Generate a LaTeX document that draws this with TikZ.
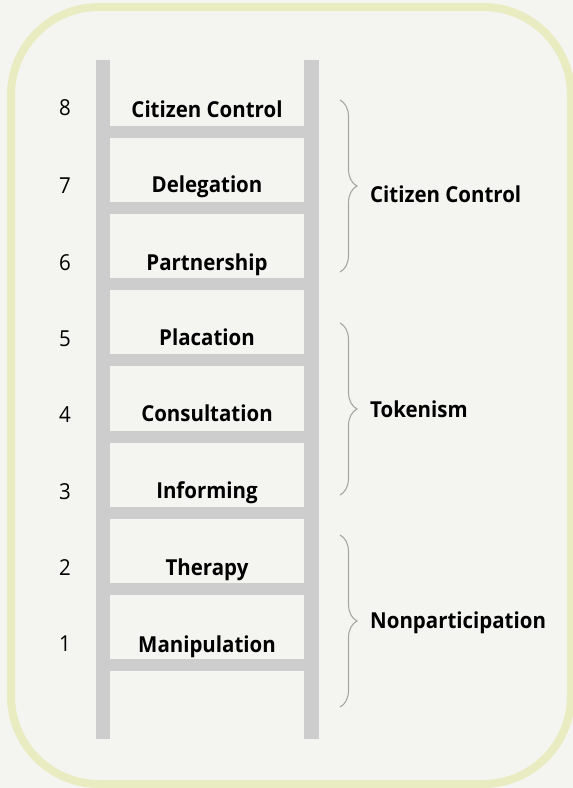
\documentclass[tikz,border=0pt]{standalone}
\usepackage{fontspec}
\setsansfont{Open Sans}[FakeStretch=0.93]
\usepackage{tikz}
\usetikzlibrary{decorations.pathreplacing}
\definecolor{bgpaper}{HTML}{F4F5F0}
\definecolor{framegreen}{HTML}{E9EBC1}
\definecolor{railgrey}{HTML}{CDCDCD}
\definecolor{bracegrey}{HTML}{A6A6A6}

\begin{document}
\begin{tikzpicture}[x=1pt,y=-1pt,
  rungname/.style={font=\sffamily\bfseries\fontsize{22}{26}\selectfont,anchor=base,inner sep=0pt},
  rungnum/.style={font=\sffamily\fontsize{22}{26}\selectfont,anchor=base,inner sep=0pt},
  groupname/.style={font=\sffamily\bfseries\fontsize{22}{26}\selectfont,anchor=base west,inner sep=0pt},
  groupbrace/.style={decorate,decoration={brace,amplitude=17pt,aspect=0.5},bracegrey,line width=1.1pt}]
\useasboundingbox (0,0) rectangle (573,788);
\fill[bgpaper] (0,0) rectangle (573,788);
\draw[framegreen,line width=8pt,fill=bgpaper,rounded corners=88pt] (11,7) rectangle (571,784);

% ladder
\fill[railgrey] (96,60) rectangle (110,739);
\fill[railgrey] (304,60) rectangle (319,739);
\fill[railgrey] (110,126) rectangle (304,138);
\fill[railgrey] (110,202) rectangle (304,214);
\fill[railgrey] (110,278) rectangle (304,290);
\fill[railgrey] (110,354) rectangle (304,366);
\fill[railgrey] (110,431) rectangle (304,443);
\fill[railgrey] (110,507) rectangle (304,519);
\fill[railgrey] (110,583) rectangle (304,595);
\fill[railgrey] (110,659) rectangle (304,671);

% rung numbers
\node[rungnum] (n8) at (65,115) {8};
\node[rungnum] (n7) at (65,193) {7};
\node[rungnum] (n6) at (65,270) {6};
\node[rungnum] (n5) at (65,346) {5};
\node[rungnum] (n4) at (65,422) {4};
\node[rungnum] (n3) at (65,499) {3};
\node[rungnum] (n2) at (65,575) {2};
\node[rungnum] (n1) at (65,651) {1};

% rung names
\node[rungname] (cc) at (207,117) {Citizen Control};
\node[rungname] (deleg) at (207,192) {Delegation};
\node[rungname] (partner) at (207,270) {Partnership};
\node[rungname] (placat) at (207,345) {Placation};
\node[rungname] (consult) at (207,421) {Consultation};
\node[rungname] (inform) at (207,498) {Informing};
\node[rungname] (therapy) at (207,575) {Therapy};
\node[rungname] (manip) at (207,652) {Manipulation};

% braces
\coordinate (b1top) at (340,100);
\coordinate (b1bot) at (340,272);
\coordinate (b2top) at (340,323);
\coordinate (b2bot) at (340,495);
\coordinate (b3top) at (340,535);
\coordinate (b3bot) at (340,707);
\draw[groupbrace] (b1top) -- (b1bot);
\draw[groupbrace] (b2top) -- (b2bot);
\draw[groupbrace] (b3top) -- (b3bot);

\node[groupname] (grpcontrol) at (370,202) {Citizen Control};
\node[groupname] (grptoken) at (370,417) {Tokenism};
\node[groupname] (grpnon) at (370,628) {Nonparticipation};
\end{tikzpicture}
\end{document}
